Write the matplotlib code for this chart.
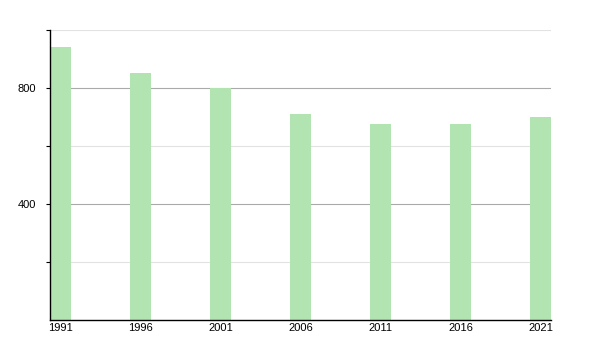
import numpy as np
import matplotlib
matplotlib.use('Agg')
import matplotlib.pyplot as plt

plt.rcParams['font.family'] = ['Liberation Sans', 'DejaVu Sans']

years = [1991, 1996, 2001, 2006, 2011, 2016, 2021]
population = [940, 853, 800, 709, 677, 677, 700]

light_grid = [200, 600, 1000]
dark_grid = [400, 800]

fig = plt.figure(figsize=(6, 3.5), dpi=100)
ax = fig.add_axes([50/600, 30/350, 501/600, 290/350])

for y in light_grid:
    ax.axhline(y, color='#e2e2e2', lw=0.8, zorder=0)
for y in dark_grid:
    ax.axhline(y, color='#aaaaaa', lw=0.8, zorder=0)

ax.bar(years, population, width=1.3, color='#b1e4b1', zorder=2)

ax.set_xlim(years[0] - 0.65, years[-1] + 0.65)
ax.set_ylim(0, 1000)
ax.set_xticks(years)
ax.set_xticklabels([str(y) for y in years], fontsize=8)
ax.tick_params(axis='x', length=0, pad=2)
ax.set_yticks([200, 400, 600, 800, 1000])
ax.set_yticklabels(['', '400', '', '800', ''], fontsize=8)
ax.tick_params(axis='y', length=3, width=0.8, pad=7)

for s in ['top', 'right']:
    ax.spines[s].set_visible(False)
ax.spines['left'].set_linewidth(1)
ax.spines['bottom'].set_linewidth(1)

fig.savefig('out.png', dpi=100)
